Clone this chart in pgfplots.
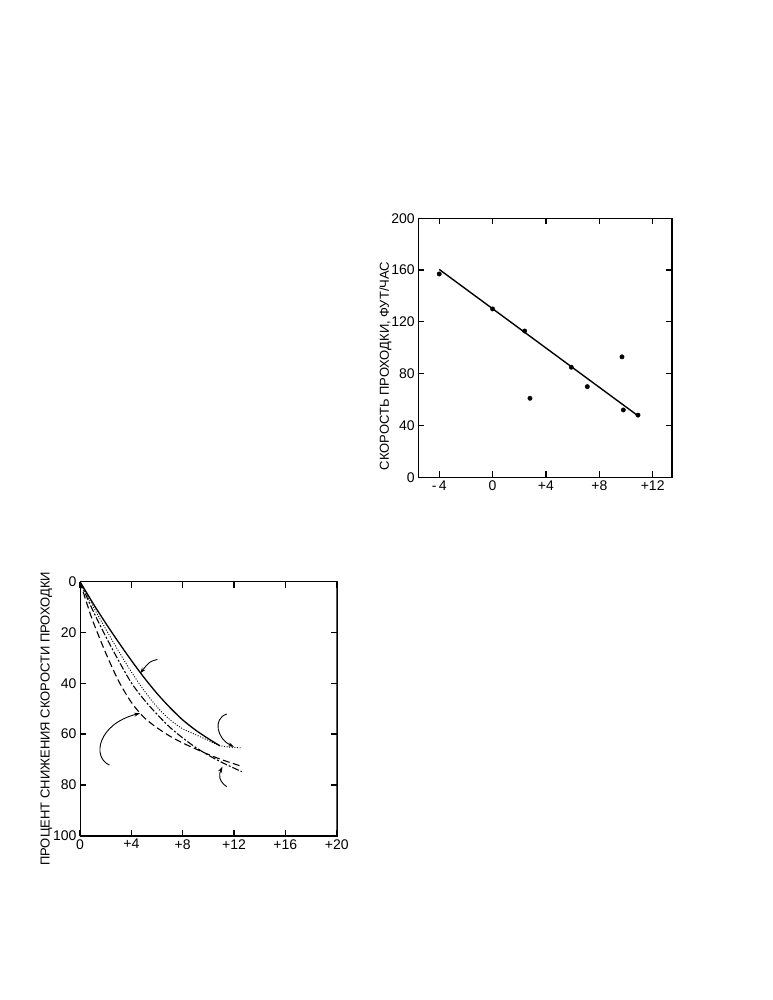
\documentclass[border=0pt]{standalone}
\usepackage{fontspec}
\setmainfont{Liberation Sans}
\usepackage{pgfplots}
\pgfplotsset{compat=1.18}
\usetikzlibrary{arrows.meta}

\pgfplotsset{
  refaxis/.style={
    scale only axis,
    anchor=south west,
    tick align=inside,
    major tick length=6pt,
    tick style={black, line width=1.2pt},
    tick pos=both,
    xticklabel pos=lower,
    yticklabel pos=left,
    ticklabel style={font=\fontsize{14}{16}\selectfont},
    /pgf/number format/assume math mode=true,
    label style={font=\fontsize{13}{15}\selectfont},
  },
}

\begin{document}
\begin{tikzpicture}
\path[use as bounding box] (0pt,0pt) rectangle (772pt,1000pt);

% upper chart: rate vs temperature
\begin{axis}[refaxis,
  at={(418.3pt,522.7pt)}, width=253.7pt, height=259pt,
  xmin=-5.57, xmax=13.45, ymin=0, ymax=200,
  xtick={-4,0,4,8,12}, xticklabels={-\,4,0,+4,+8,+12},
  ytick={0,40,80,120,160,200},
  ylabel={СКОРОСТЬ ПРОХОДКИ, ФУТ/ЧАС},
  ylabel style={at={(ticklabel cs:0.43)}, anchor=south, yshift=-7pt},
]
\addplot[black, line width=1.4pt, no marks] coordinates {(-4,160.5) (10.9,47.5)};
\addplot[black, only marks, mark=*, mark size=2.2pt] coordinates {
  (-4,157) (0,130) (2.4,113) (2.8,61) (5.9,85)
  (7.1,70) (9.7,93) (9.8,52) (10.9,48)
};
\draw[line width=1.4pt] (rel axis cs:0,0) rectangle (rel axis cs:1,1);
\end{axis}

% lower chart: percent reduction
\begin{axis}[refaxis,
  at={(80pt,164.3pt)}, width=256.7pt, height=254pt,
  xmin=0, xmax=20, ymin=0, ymax=100, y dir=reverse,
  xtick={0,4,8,12,16,20}, xticklabels={0,+4,+8,+12,+16,+20},
  ytick={0,20,40,60,80,100},
  ylabel={ПРОЦЕНТ СНИЖЕНИЯ СКОРОСТИ ПРОХОДКИ},
  ylabel style={at={(ticklabel cs:0.46)}, anchor=south, yshift=-6pt},
]
\addplot[black, line width=1.3pt, smooth, no marks] coordinates {
  (0,0) (1,8.4) (2,16.3) (3,23.8) (4,31) (5,37.8) (6,44) (7,49.5)
  (8,54.4) (9,58.4) (10,61.8) (10.9,64.6)
};
\addplot[black, line width=0.9pt, dash pattern=on 1pt off 1.6pt, smooth, no marks] coordinates {
  (0,0) (1,9.5) (2,18.6) (3,27.3) (4,35.5) (5,42.9) (6,49.3) (7,54.3)
  (8,57.9) (9,60.2) (10,62.5) (10.8,64.4) (11.6,65.1) (12.6,65.4)
};
\addplot[black, line width=1.1pt, dash pattern=on 7pt off 2pt on 2pt off 2pt, smooth, no marks] coordinates {
  (0,0) (1,11.3) (2,21.5) (3,31) (4,39.8) (5,46.5) (6,52.2) (7,57.3)
  (8,61.5) (9,65.2) (10,68.3) (11,71) (12,73.4) (12.6,74.8)
};
\addplot[black, line width=1.1pt, dash pattern=on 7pt off 3.5pt, smooth, no marks] coordinates {
  (0,0) (0.5,8) (1,15.5) (2,28) (3,39) (4,47.5) (5,53.5) (6,57.5)
  (7,60.8) (8,63.5) (9,65.8) (10,68) (11,70) (12,71.7) (12.6,72.7)
};
% pointer arrows
\draw[line width=0.9pt, -{Stealth[length=6pt,width=4pt]}]
  (axis cs:6.03,30.6) .. controls (axis cs:5.4,31.5) .. (axis cs:4.68,36.1);
\draw[line width=0.9pt, -{Stealth[length=6pt,width=4pt]}]
  (axis cs:2.29,72.2) .. controls (axis cs:0.9,69) and (axis cs:1.4,56) .. (axis cs:4.68,51.8);
\draw[line width=0.9pt, -{Stealth[length=6pt,width=4pt]}]
  (axis cs:11.43,52.1) .. controls (axis cs:10.3,54) and (axis cs:10.7,62) .. (axis cs:12.0,65);
\draw[line width=0.9pt, -{Stealth[length=6pt,width=4pt]}]
  (axis cs:11.43,80.7) .. controls (axis cs:10.8,78.5) and (axis cs:10.8,76) .. (axis cs:11.1,72.8);
\draw[line width=1.4pt] (rel axis cs:0,0) rectangle (rel axis cs:1,1);
\end{axis}
\end{tikzpicture}
\end{document}
